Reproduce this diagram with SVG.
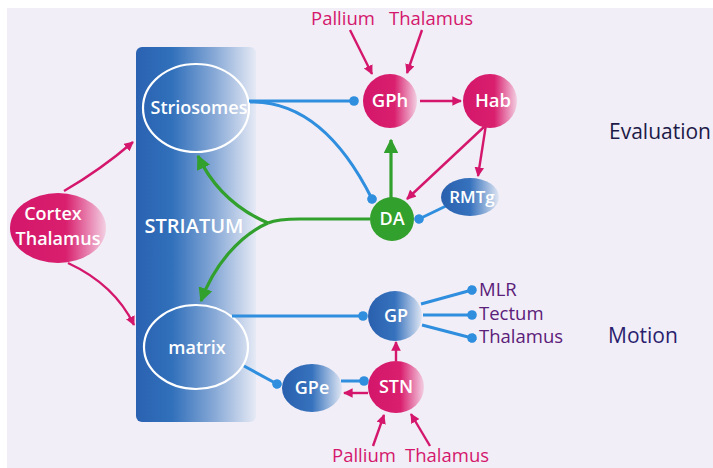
<svg xmlns="http://www.w3.org/2000/svg" width="713" height="468" viewBox="0 0 713 468">
  <defs>
    <linearGradient id="gradStriatum" x1="0" y1="0" x2="1" y2="0">
      <stop offset="0" stop-color="#2a62b1"/>
      <stop offset="0.3" stop-color="#3170bb"/>
      <stop offset="0.65" stop-color="#86a8d6"/>
      <stop offset="1" stop-color="#e6eaf5"/>
    </linearGradient>
    <linearGradient id="gradPink" x1="0" y1="0" x2="1" y2="0">
      <stop offset="0" stop-color="#d4166a"/>
      <stop offset="0.58" stop-color="#d91f6e"/>
      <stop offset="1" stop-color="#f3cfe2"/>
    </linearGradient>
    <linearGradient id="gradBlue" x1="0" y1="0" x2="1" y2="0">
      <stop offset="0" stop-color="#2a60ae"/>
      <stop offset="0.5" stop-color="#3672bd"/>
      <stop offset="1" stop-color="#dfe6f3"/>
    </linearGradient>
    <marker id="arrPink" viewBox="0 0 10 10" refX="9" refY="5" markerWidth="4" markerHeight="4" markerUnits="strokeWidth" orient="auto">
      <path d="M0,0 L10,5 L0,10 Z" fill="#d4176c"/>
    </marker>
    <marker id="arrGreen" viewBox="0 0 10 10" refX="9" refY="5" markerWidth="4.5" markerHeight="4.5" markerUnits="strokeWidth" orient="auto">
      <path d="M0,0 L10,5 L0,10 Z" fill="#32a02c"/>
    </marker>
    <marker id="dotBlue" viewBox="0 0 10 10" refX="5" refY="5" markerWidth="3.2" markerHeight="3.2" markerUnits="strokeWidth" orient="auto">
      <circle cx="5" cy="5" r="5" fill="#2f8ede"/>
    </marker>
  </defs>
  <style>
    .pink { fill: none; stroke: #d4176c; stroke-width: 2.4; marker-end: url(#arrPink); }
    .green { fill: none; stroke: #32a02c; stroke-width: 3.2; }
    .blue { fill: none; stroke: #2f8ede; stroke-width: 3; marker-end: url(#dotBlue); }
    .lbl { font-family: "Open Sans", "Noto Sans", sans-serif; font-weight: 600; fill: #ffffff; text-anchor: middle; }
    .ext { font-family: "Open Sans", "Noto Sans", sans-serif; font-size: 18.5px; }
    .lvl { font-family: "Open Sans", "Noto Sans", sans-serif; font-size: 21px; }
  </style>

  <!-- canvas -->
  <rect x="0" y="0" width="713" height="468" fill="#ffffff"/>
  <rect x="7" y="8" width="706" height="460" fill="#f1eef7"/>

  <!-- striatum block -->
  <g id="striatum">
    <rect x="136" y="47" width="120" height="375" rx="6" fill="url(#gradStriatum)"/>
    <text class="lbl" x="194" y="233" font-size="20">STRIATUM</text>
  </g>
  <g id="striosomes">
    <ellipse cx="196" cy="108" rx="53" ry="44" fill="none" stroke="#ffffff" stroke-width="2.2"/>
    <text class="lbl" x="199" y="114" font-size="18">Striosomes</text>
  </g>
  <g id="matrix">
    <ellipse cx="196" cy="347" rx="52" ry="42" fill="none" stroke="#ffffff" stroke-width="2.2"/>
    <text class="lbl" x="197" y="354" font-size="18">matrix</text>
  </g>

  <!-- connectors -->
  <g id="connectors">
    <!-- cortex / thalamus inputs to striatum -->
    <path class="pink" d="M64,191 C90,176 112,160 133,142"/>
    <path class="pink" d="M68,263 C96,276 120,296 134,325"/>
    <!-- pallium / thalamus to GPh -->
    <path class="pink" d="M350,30 L372,74"/>
    <path class="pink" d="M422,30 L407,73"/>
    <!-- GPh to Hab -->
    <path class="pink" d="M420,101 L461,101"/>
    <!-- Hab to RMTg and DA -->
    <path class="pink" d="M487,118 L478,176"/>
    <path class="pink" d="M485,126 L407,199"/>
    <!-- STN outputs -->
    <path class="pink" d="M368,393 L344,393"/>
    <path class="pink" d="M396,361 L396,342"/>
    <!-- pallium / thalamus to STN -->
    <path class="pink" d="M373,446 L384,415"/>
    <path class="pink" d="M430,446 L411,414"/>

    <!-- striosomes outputs -->
    <path class="blue" d="M249,101 L354,101"/>
    <path class="blue" d="M250,102 C300,101 340,135 372,199"/>
    <!-- RMTg to DA -->
    <path class="blue" d="M446,206 L419,219"/>
    <!-- matrix outputs -->
    <path class="blue" d="M232,316 L363,316"/>
    <path class="blue" d="M244,366 L277,384"/>
    <!-- GPe to STN -->
    <path class="blue" d="M341,381 L364,381"/>
    <!-- GP outputs -->
    <path class="blue" d="M421,304 L472,290"/>
    <path class="blue" d="M423,315 L472,315"/>
    <path class="blue" d="M422,325 L472,338"/>

    <!-- dopamine projections -->
    <path class="green" d="M391,198 L391,140" marker-end="url(#arrGreen)"/>
    <path class="green" d="M370,219 L300,219 C285,219 275,220 268,223"/>
    <path class="green" d="M268,223 C240,211 214,190 198,156" marker-end="url(#arrGreen)"/>
    <path class="green" d="M268,223 C240,235 214,265 201,301" marker-end="url(#arrGreen)"/>
  </g>

  <!-- nodes -->
  <g id="cortex">
    <ellipse cx="58" cy="228" rx="48" ry="35" fill="url(#gradPink)"/>
    <text class="lbl" x="53" y="220" font-size="18">Cortex</text>
    <text class="lbl" x="58" y="245" font-size="18">Thalamus</text>
  </g>
  <g id="gph">
    <circle cx="390" cy="101" r="27" fill="url(#gradPink)"/>
    <text class="lbl" x="390" y="107" font-size="18.5">GPh</text>
  </g>
  <g id="hab">
    <circle cx="490" cy="101" r="27" fill="url(#gradPink)"/>
    <text class="lbl" x="493" y="107" font-size="18.5">Hab</text>
  </g>
  <g id="da">
    <circle cx="392" cy="219" r="22" fill="#32a02c"/>
    <text class="lbl" x="392" y="225" font-size="18">DA</text>
  </g>
  <g id="rmtg">
    <ellipse cx="470" cy="197" rx="29" ry="19" fill="url(#gradBlue)"/>
    <text class="lbl" x="472" y="203" font-size="17" font-weight="400">RMTg</text>
  </g>
  <g id="gp">
    <ellipse cx="395" cy="316" rx="27" ry="25" fill="url(#gradBlue)"/>
    <text class="lbl" x="396" y="322" font-size="18">GP</text>
  </g>
  <g id="gpe">
    <ellipse cx="312" cy="388" rx="30" ry="24" fill="url(#gradBlue)"/>
    <text class="lbl" x="312" y="394" font-size="18">GPe</text>
  </g>
  <g id="stn">
    <ellipse cx="396" cy="387" rx="28" ry="26" fill="url(#gradPink)"/>
    <text class="lbl" x="396" y="393" font-size="18">STN</text>
  </g>

  <!-- input / output labels -->
  <g id="inputs-top">
    <text class="ext" x="311" y="25" fill="#d4176c">Pallium</text>
    <text class="ext" x="389" y="25" fill="#d4176c">Thalamus</text>
  </g>
  <g id="inputs-bottom">
    <text class="ext" x="332" y="462" fill="#d4176c">Pallium</text>
    <text class="ext" x="405" y="462" fill="#d4176c">Thalamus</text>
  </g>
  <g id="outputs">
    <text class="ext" x="479" y="296" fill="#5b2079">MLR</text>
    <text class="ext" x="479" y="320" fill="#5b2079">Tectum</text>
    <text class="ext" x="479" y="343" fill="#5b2079">Thalamus</text>
  </g>
  <g id="levels">
    <text class="lvl" x="609" y="139" fill="#1d1a48">Evaluation</text>
    <text class="lvl" x="608" y="343" fill="#2a1e6e">Motion</text>
  </g>
</svg>
